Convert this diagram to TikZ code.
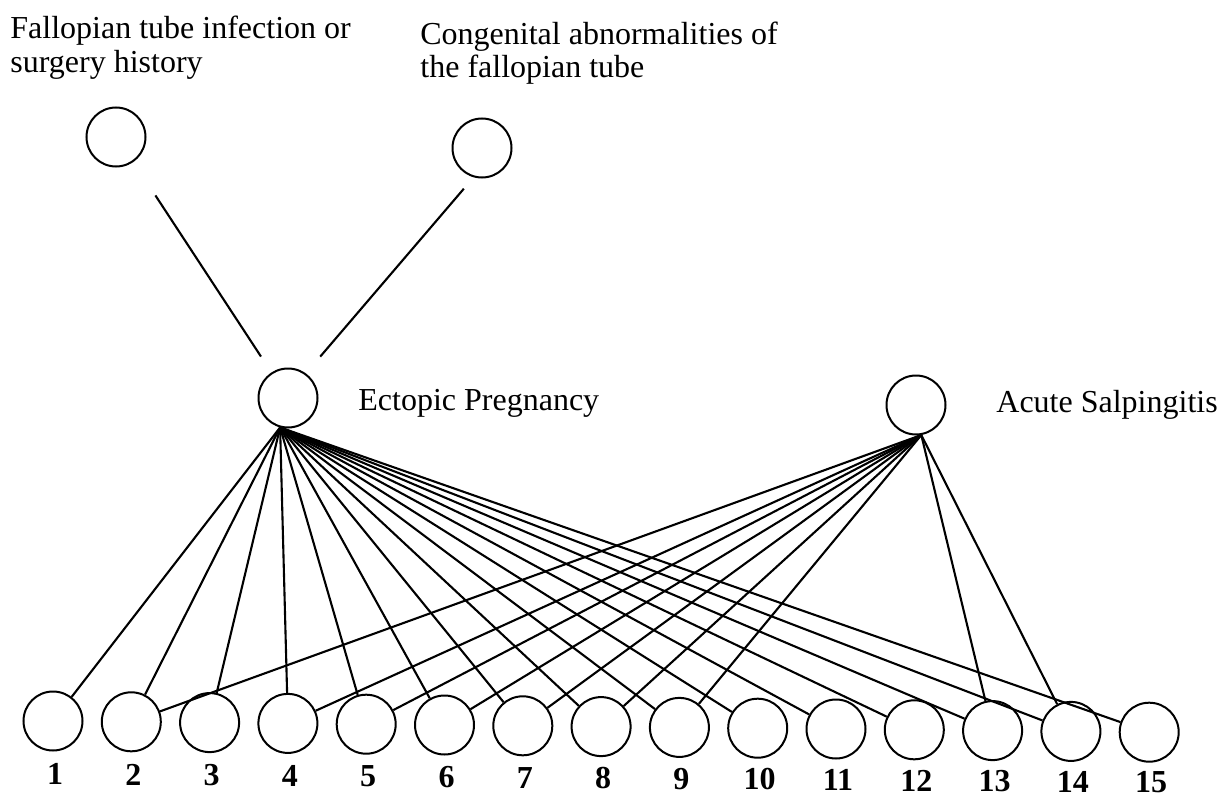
\documentclass[tikz,border=0pt]{standalone}
\usepackage{fontspec}
\setmainfont{Liberation Serif}
\begin{document}
\begin{tikzpicture}[x=0.5pt,y=-0.5pt,
  bn/.style={circle,draw,line width=1pt,minimum size=29.5pt,inner sep=0pt},
  lbl/.style={font=\fontsize{16}{17}\selectfont,inner sep=0pt},
  num/.style={font=\fontsize{16}{17}\selectfont\bfseries,inner sep=0pt},
  link/.style={line width=1.05pt}]
\useasboundingbox (0,0) rectangle (1221,797);
\fill[white] (0,0) rectangle (1221,797);
% upper nodes
\node[bn] (t1) at (116,137) {};
\node[bn] (t2) at (482,148) {};
\node[bn] (ep) at (288,398) {};
\node[bn] (as) at (916,405) {};
\node[lbl,align=left,anchor=base west] (l1) at (10,73) {Fallopian tube infection or\\surgery history};
\node[lbl,align=left,anchor=base west] (l2) at (420,78) {Congenital abnormalities of\\the fallopian tube};
\node[lbl,anchor=base west] (lep) at (358,410) {Ectopic Pregnancy};
\node[lbl,anchor=base west] (las) at (996,412) {Acute Salpingitis};
% bottom nodes
\foreach \k in {1,...,15}{
  \node[bn] (n\k) at ({53+78.3*(\k-1)},{721+0.8*(\k-1)}) {};
  \node[num] (m\k) at ({55+78.3*(\k-1)},{774+0.6*(\k-1)}) {\k};
}
% links
\draw[link,shorten <=20pt,shorten >=9.5pt] (t1.-55) -- (ep.123);
\draw[link,shorten <=7.5pt,shorten >=11pt] (t2.254) -- (ep.54);
\foreach \k in {1,...,15}{
  \draw[link] (ep.-105) -- (n\k);
}
\foreach \k in {2,4,5,6,7,8,9,13,14}{
  \draw[link] (as.-80) -- (n\k);
}
\end{tikzpicture}
\end{document}
